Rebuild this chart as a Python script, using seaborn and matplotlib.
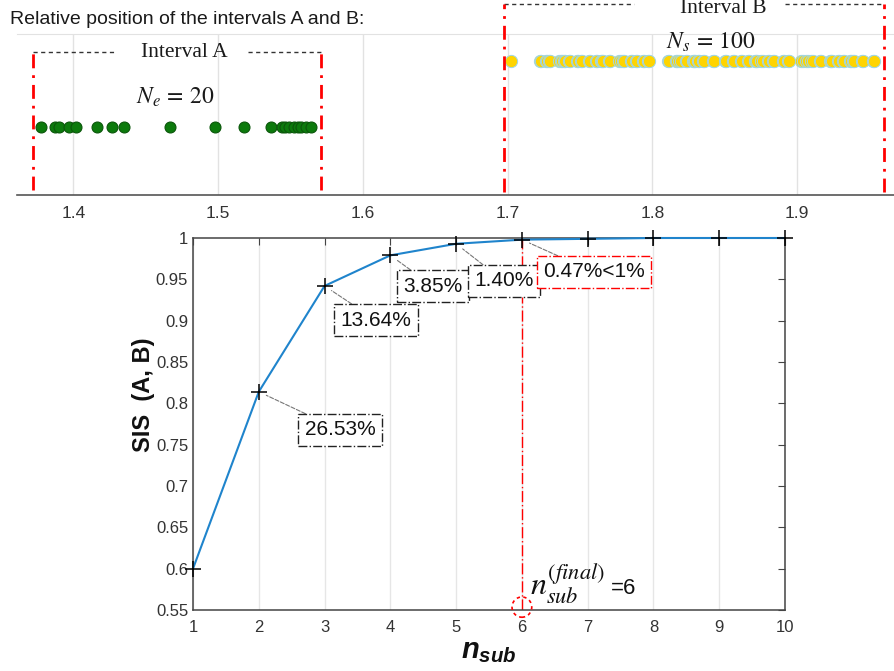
import numpy as np
import pandas as pd
import matplotlib
matplotlib.use("Agg")
import matplotlib.pyplot as plt
import seaborn as sns
from matplotlib.patches import Ellipse

# ---------------- data ----------------
interval_a_points = [1.3774, 1.3873, 1.3900, 1.3970, 1.4017, 1.4160, 1.4266, 1.4346,
                     1.4669, 1.4981, 1.5177, 1.5368, 1.5438, 1.5460, 1.5490, 1.5523,
                     1.5550, 1.5570, 1.5610, 1.5643]
interval_b_points = [1.7026,
                     1.7223, 1.7231, 1.7265, 1.7273, 1.7287, 1.7295, 1.7357, 1.7365,
                     1.7372, 1.7391, 1.7399, 1.7426, 1.7434, 1.7481, 1.7489, 1.7507,
                     1.7515, 1.7564, 1.7572, 1.7611, 1.7619, 1.7645, 1.7653, 1.7660,
                     1.7702, 1.7710, 1.7772, 1.7780, 1.7795, 1.7803, 1.7853, 1.7861,
                     1.7888, 1.7896, 1.7933, 1.7941, 1.7968, 1.7976,
                     1.8106, 1.8114, 1.8164, 1.8172, 1.8187, 1.8195, 1.8234, 1.8242,
                     1.8279, 1.8287, 1.8294, 1.8314, 1.8322, 1.8348, 1.8356, 1.8418,
                     1.8426, 1.8499, 1.8507, 1.8556, 1.8564, 1.8614, 1.8622, 1.8660,
                     1.8668, 1.8706, 1.8714, 1.8721, 1.8753, 1.8761, 1.8798, 1.8806,
                     1.8833, 1.8841, 1.8902, 1.8910, 1.8937, 1.8945,
                     1.9029, 1.9037, 1.9064, 1.9072, 1.9099, 1.9107, 1.9156, 1.9164,
                     1.9225, 1.9233, 1.9240, 1.9283, 1.9291, 1.9317, 1.9325, 1.9364,
                     1.9372, 1.9387, 1.9395, 1.9445, 1.9453, 1.9525, 1.9533]
interval_a_bounds = [1.3723, 1.5707]
interval_b_bounds = [1.6974, 1.9600]
top_ticks = [1.4, 1.5, 1.6, 1.7, 1.8, 1.9]
top_tick_labels = ["1.4", "1.5", "1.6", "1.7", "1.8", "1.9"]

n_sub = [1, 2, 3, 4, 5, 6, 7, 8, 9, 10]
sis = [0.600, 0.814, 0.942, 0.979, 0.993, 0.998, 0.999, 1.000, 1.000, 1.000]
change_labels = ["26.53%", "13.64%", "3.85%", "1.40%", "0.47%<1%"]
y_ticks = [0.55, 0.60, 0.65, 0.70, 0.75, 0.80, 0.85, 0.90, 0.95, 1.00]
y_tick_labels = ["0.55", "0.6", "0.65", "0.7", "0.75", "0.8", "0.85", "0.9", "0.95", "1"]
n_final = 6

# ---------------- style ----------------
sns.set_style("white")
plt.rcParams["font.family"] = ["Liberation Sans", "DejaVu Sans"]
plt.rcParams["mathtext.fontset"] = "stix"
plt.rcParams["mathtext.it"] = "Liberation Sans:italic:bold"
plt.rcParams["mathtext.rm"] = "Liberation Sans:bold"
plt.rcParams["mathtext.bf"] = "Liberation Sans:bold"
plt.rcParams["mathtext.sf"] = "Liberation Sans:bold"

W, H = 895, 671
fig = plt.figure(figsize=(W / 100, H / 100), dpi=100)

fig.text(10 / W, 1 - 20 / H, "Relative position of the intervals A and B:",
         fontsize=14, color="#1a1a1a", ha="left", va="center")

# ---------------- top axes ----------------
ax_top = fig.add_axes([17 / W, 1 - 195 / H, 1 - 17 / W, 161 / H])
ax_top.set_xlim(1.361, 1.9676)
ax_top.set_ylim(0, 1)

sns.scatterplot(x=interval_a_points, y=np.full(len(interval_a_points), 0.42),
                ax=ax_top, color="#0c7a0c", edgecolor="#0a560a", linewidth=0.8,
                s=62, zorder=3, legend=False, clip_on=False)
sns.scatterplot(x=interval_b_points, y=np.full(len(interval_b_points), 0.83),
                ax=ax_top, color="#FFD400", edgecolor="#9fd6e8", linewidth=0.7,
                s=78, zorder=3, legend=False, clip_on=False)

ax_top.set_xticks(top_ticks)
ax_top.set_xticklabels(top_tick_labels)
ax_top.set_yticks([])
ax_top.grid(axis="x", color="#e2e2e2", lw=1)
ax_top.grid(axis="y", visible=False)
for s in ["left", "right"]:
    ax_top.spines[s].set_visible(False)
ax_top.spines["top"].set_color("#e2e2e2")
ax_top.spines["bottom"].set_color("#555555")
ax_top.spines["bottom"].set_linewidth(1.2)
ax_top.tick_params(axis="x", direction="in", length=4, color="#555555",
                   labelsize=12.5, labelcolor="#333333", pad=8)

red_ls = (0, (5, 2.5, 1, 2.5))
# Interval A bracket
for b in interval_a_bounds:
    ax_top.plot([b, b], [0.03, 0.888], color="red", lw=2, ls=red_ls, clip_on=False, zorder=4)
ax_top.plot([interval_a_bounds[0], 1.4302], [0.888, 0.888], color="#333333", lw=1,
            ls=(0, (3, 2.5)), clip_on=False)
ax_top.plot([1.5209, interval_a_bounds[1]], [0.888, 0.888], color="#333333", lw=1,
            ls=(0, (3, 2.5)), clip_on=False)
ax_top.text(1.4765, 0.888, "Interval A", family="Liberation Serif", fontsize=15.5,
            ha="center", va="center", color="#1a1a1a")
ax_top.text(1.4704, 0.609, r"$N_e\,=\,20$", fontsize=17, ha="center", va="center",
            math_fontfamily="stix", color="#1a1a1a")
# Interval B bracket
for b in interval_b_bounds:
    ax_top.plot([b, b], [0.02, 1.186], color="red", lw=2, ls=red_ls, clip_on=False, zorder=4)
ax_top.plot([interval_b_bounds[0], 1.787], [1.186, 1.186], color="#333333", lw=1,
            ls=(0, (3, 2.5)), clip_on=False)
ax_top.plot([1.8915, interval_b_bounds[1]], [1.186, 1.186], color="#333333", lw=1,
            ls=(0, (3, 2.5)), clip_on=False)
ax_top.text(1.8488, 1.16, "Interval B", family="Liberation Serif", fontsize=15.5,
            ha="center", va="center", color="#1a1a1a", clip_on=False)
ax_top.text(1.840, 0.95, r"$N_s\,=\,100$", fontsize=17, ha="center", va="center",
            math_fontfamily="stix", color="#1a1a1a")

# ---------------- bottom axes ----------------
ax = fig.add_axes([193 / W, 1 - 610 / H, 592 / W, 372 / H])
df = pd.DataFrame({"n_sub": n_sub, "sis": sis})
sns.lineplot(data=df, x="n_sub", y="sis", ax=ax, color="#1f84cc", lw=1.5,
             marker="+", markersize=11, mec="black", mew=1.1, zorder=4, clip_on=False)
ax.set_xlim(1, 10)
ax.set_ylim(0.55, 1.0)
ax.set_xticks(n_sub)
ax.set_xticklabels([str(v) for v in n_sub])
ax.set_yticks(y_ticks)
ax.set_yticklabels(y_tick_labels)
ax.grid(axis="x", color="#e6e6e6", lw=1)
ax.grid(axis="y", visible=False)
for s in ax.spines.values():
    s.set_color("#444444")
    s.set_linewidth(1.1)
ax.tick_params(direction="in", length=5, top=True, right=True, color="#444444",
               labelsize=12, labelcolor="#333333")
ax.tick_params(axis="x", pad=7)

ax.set_ylabel("SIS  (A, B)", fontsize=17, fontweight="bold", color="#111111")
ax.yaxis.set_label_coords(-0.065, 0.578)
ax.set_xlabel(r"$n_{sub}$", fontsize=21, math_fontfamily="custom", labelpad=2,
              color="#111111")

# percentage annotations
box_pos = [(3.234, 0.7678), (3.781, 0.9008), (4.647, 0.9419), (5.726, 0.948), (7.094, 0.9589)]
for i, (lab, (bx, by)) in enumerate(zip(change_labels, box_pos)):
    edge = "red" if i == len(change_labels) - 1 else "#222222"
    ax.annotate(lab, xy=(n_sub[i + 1], sis[i + 1]), xytext=(bx, by), textcoords="data",
                ha="center", va="center", fontsize=15, color="#111111",
                bbox=dict(boxstyle="square,pad=0.3", fc="white", ec=edge, ls="-.", lw=1),
                arrowprops=dict(arrowstyle="-", color="#777777", ls="--", lw=0.8,
                                shrinkA=0, shrinkB=6),
                zorder=5)

# final n_sub marker
idx = n_sub.index(n_final)
ax.plot([n_final, n_final], [0.55, sis[idx]], color="red", lw=1, ls=(0, (8, 2, 1, 2)), zorder=2)
ax.add_patch(Ellipse((n_final, 0.5535), width=0.30, height=0.0245, fill=False, ec="red",
                     ls=(0, (2, 2)), lw=1.2, clip_on=False, zorder=5))
ax.text(6.13, 0.5675, r"$n_{sub}^{(final)}$", fontsize=23, math_fontfamily="stix",
        ha="left", va="baseline", color="#111111")
ax.text(7.36, 0.5765, "=6", fontsize=16, ha="left", va="center", color="#111111")

fig.savefig("out.png", dpi=100)
